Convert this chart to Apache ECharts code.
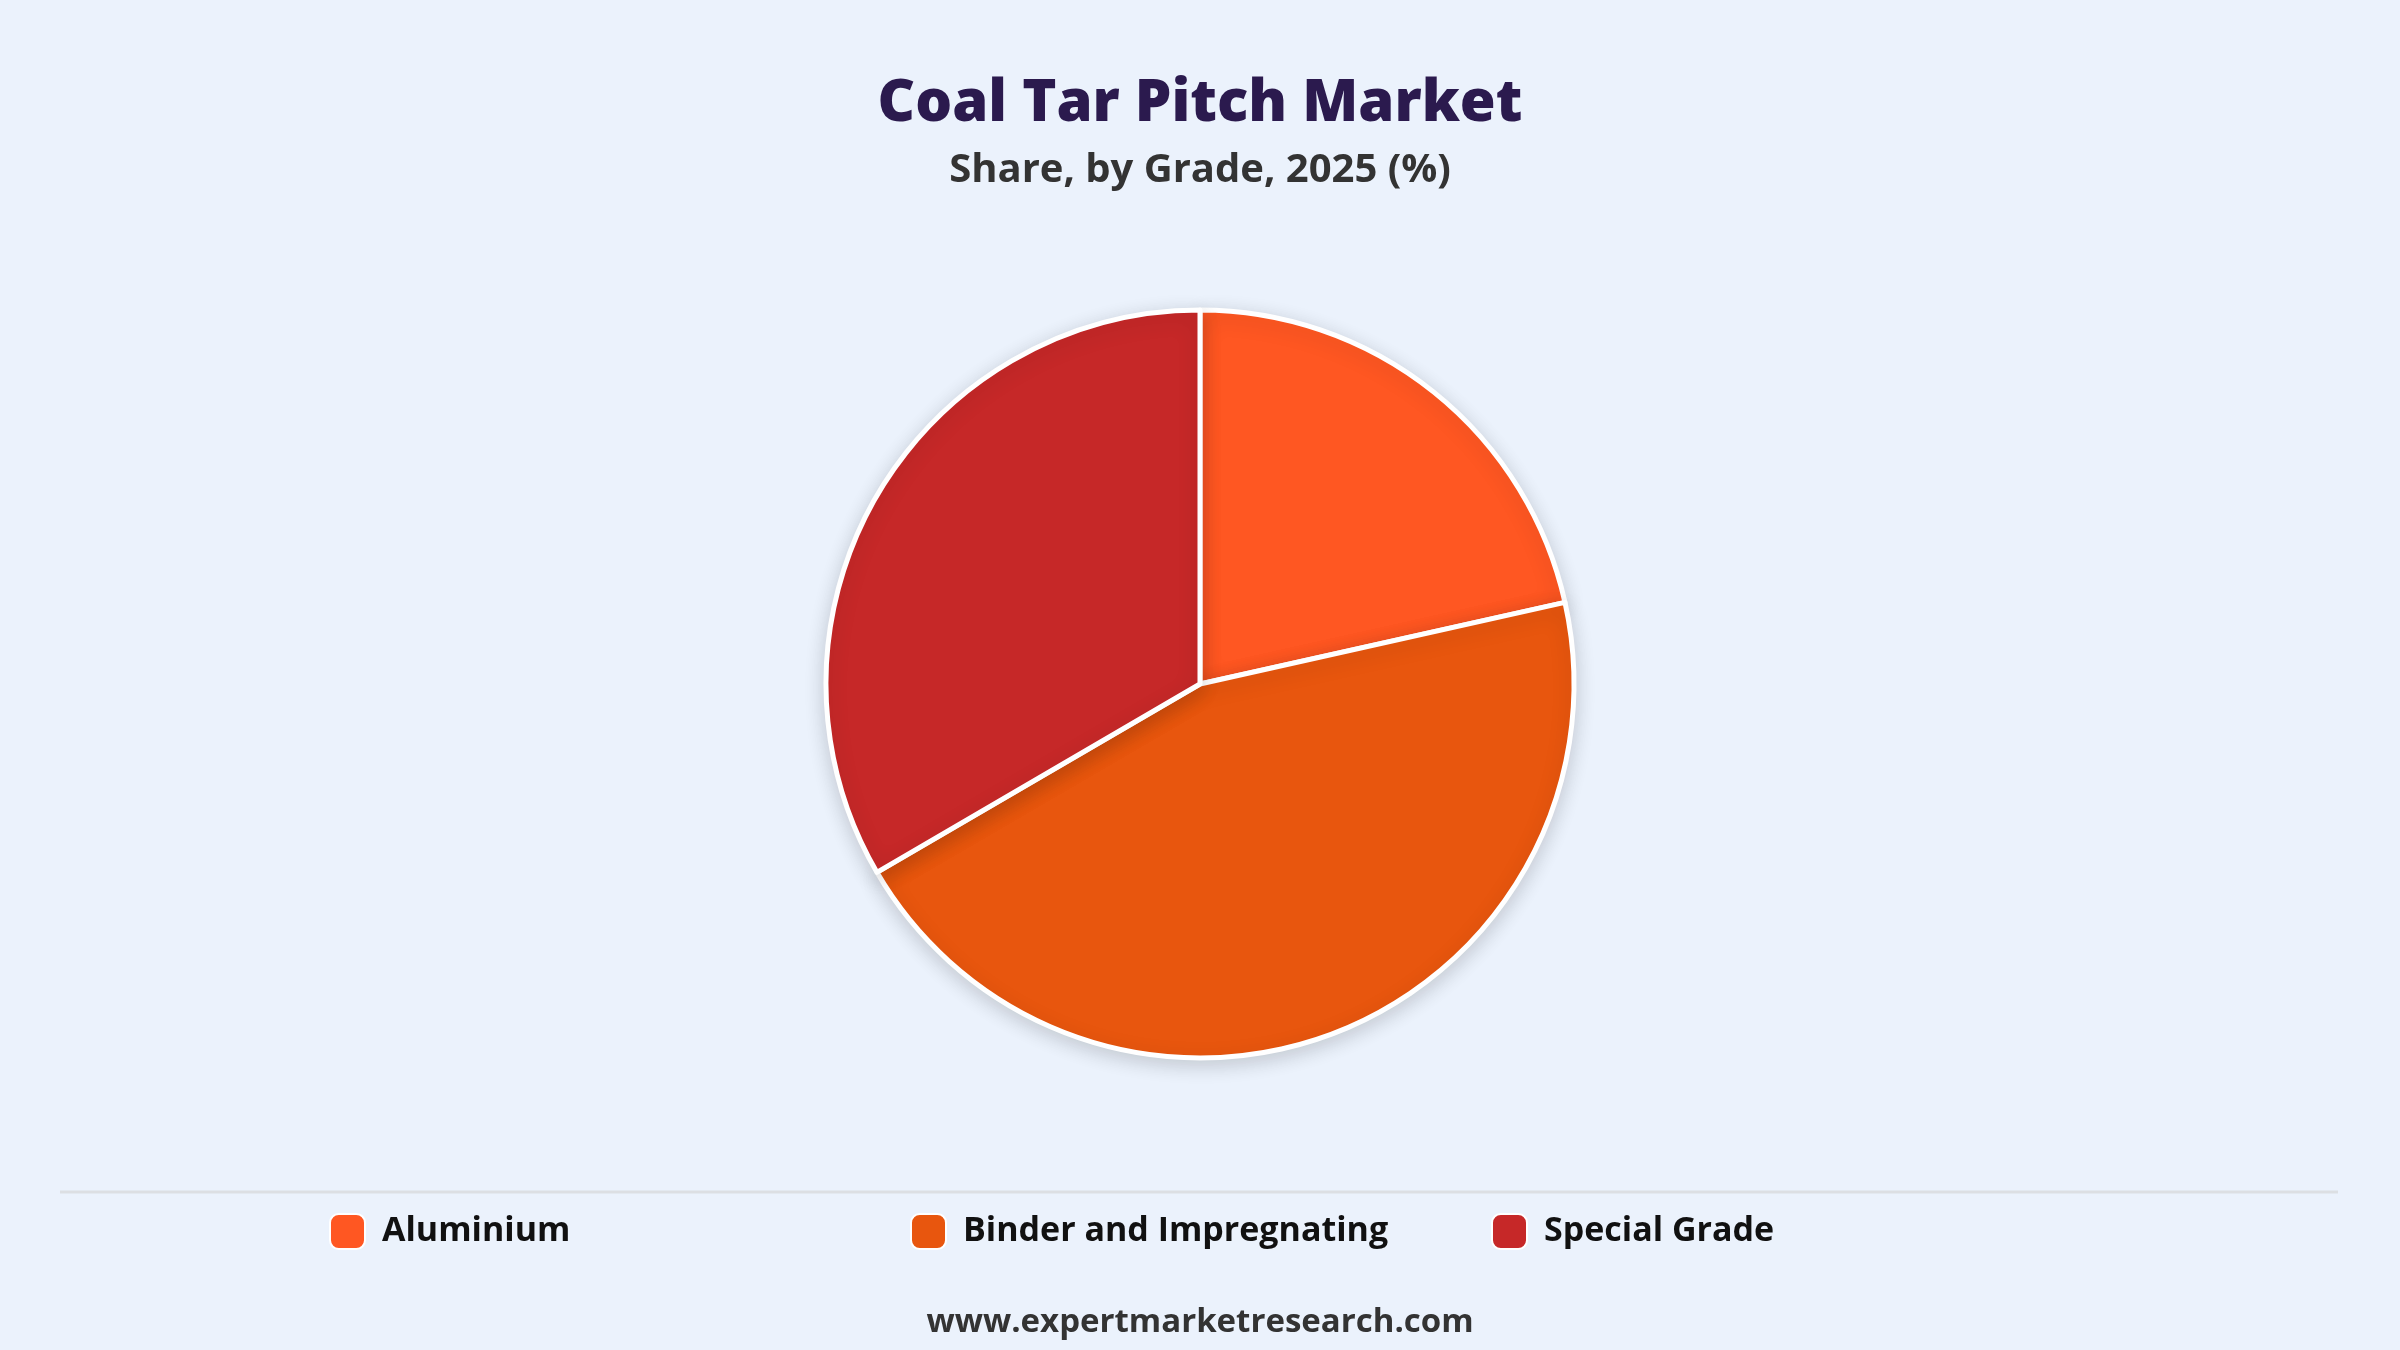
<!DOCTYPE html>
<html>
<head>
<meta charset="utf-8">
<script src="https://cdn.jsdelivr.net/npm/echarts@6/dist/echarts.min.js"></script>
<style>
  html, body { margin: 0; padding: 0; background: #EBF2FC; }
  #chart { width: 2400px; height: 1350px; }
</style>
</head>
<body>
<div id="chart"></div>
<script>
    // Grades and their share (%)
    const grades = ['Aluminium', 'Binder and Impregnating', 'Special Grade'];
    const shares = [21.5, 45.1, 33.4];
    const colors = ['#FF5722', '#E8560E', '#C62828'];

    const font = '"Open Sans", "Noto Sans", sans-serif';

    // based on prepared DOM, initialize echarts instance
    let myChart = echarts.init(document.getElementById('chart'));

    // one legend per grade, laid out on a fixed pitch
    let legends = grades.map((g, i) => ({
        data: [g],
        left: 324 + i * 581,
        top: 1208,
        itemWidth: 35,
        itemHeight: 35,
        itemGap: 16,
        icon: 'roundRect',
        selectedMode: false,
        textStyle: {
            fontFamily: font,
            fontSize: 34,
            fontWeight: 'bold',
            color: '#111111',
            padding: [0, 0, 0, 12]
        }
    }));

    let chartOptions = {
        backgroundColor: '#EBF2FC',
        title: [{
            text: 'Coal Tar Pitch Market',
            subtext: 'Share, by Grade, 2025 (%)',
            left: 'center',
            top: 70,
            itemGap: 18,
            textStyle: {
                fontFamily: font,
                fontSize: 58,
                fontWeight: 800,
                color: '#2B1A4E'
            },
            subtextStyle: {
                fontFamily: font,
                fontSize: 40,
                fontWeight: 'bold',
                color: '#333333'
            }
        }, {
            text: 'www.expertmarketresearch.com',
            left: 'center',
            top: 1301,
            textStyle: {
                fontFamily: font,
                fontSize: 33,
                fontWeight: 'bold',
                color: '#333333'
            }
        }],
        legend: legends,
        graphic: [{
            type: 'line',
            shape: { x1: 60, y1: 1192, x2: 2338, y2: 1192 },
            style: { stroke: '#DCDFE3', lineWidth: 3 }
        }],
        series: [{
            type: 'pie',
            center: ['50%', 684],
            radius: 374,
            startAngle: 90,
            clockwise: true,
            label: { show: false },
            labelLine: { show: false },
            silent: true,
            itemStyle: {
                borderColor: '#FFFFFF',
                borderWidth: 5,
                shadowBlur: 20,
                shadowOffsetY: 5,
                shadowColor: 'rgba(0, 0, 0, 0.16)'
            },
            data: grades.map((g, i) => ({
                name: g,
                value: shares[i],
                itemStyle: { color: colors[i] }
            }))
        }]
    };

    myChart.setOption(chartOptions);
</script>
</body>
</html>
